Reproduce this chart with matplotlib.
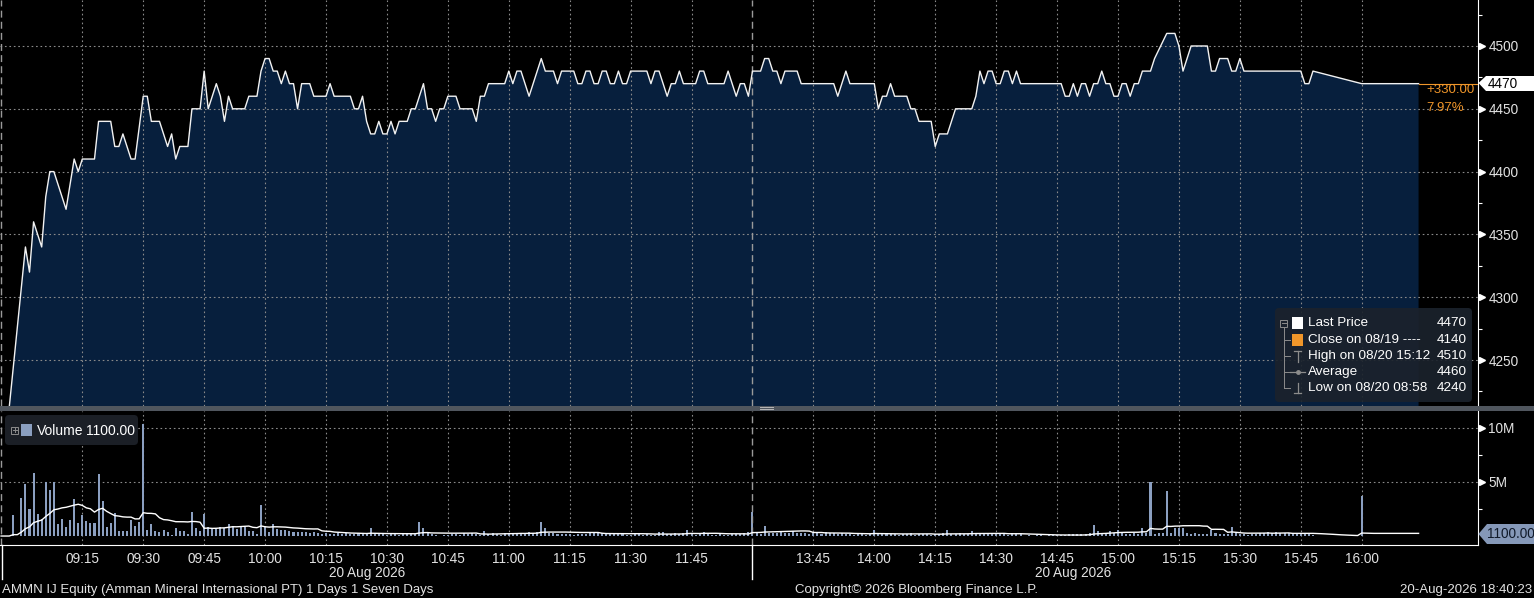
import numpy as np
import pandas as pd
import matplotlib
matplotlib.use("Agg")
import matplotlib.pyplot as plt
import matplotlib.transforms as mtransforms
from matplotlib.patches import FancyBboxPatch, Rectangle, Polygon
from matplotlib.lines import Line2D

# ---- data ----
price_times = ["08:56", "09:01", "09:02", "09:03", "09:05", "09:06", "09:07", "09:08", "09:11", "09:12",
               "09:13", "09:14", "09:15", "09:18", "09:19", "09:22", "09:23", "09:24", "09:25", "09:27",
               "09:28", "09:30", "09:31", "09:32", "09:34", "09:36", "09:37", "09:38", "09:39", "09:41",
               "09:42", "09:44", "09:45", "09:46", "09:48", "09:49", "09:50", "09:51", "09:52", "09:55",
               "09:56", "09:58", "09:59", "10:00", "10:01", "10:02", "10:03", "10:04", "10:05", "10:06",
               "10:07", "10:08", "10:09", "10:11", "10:12", "10:15", "10:16", "10:17", "10:21", "10:22",
               "10:23", "10:24", "10:25", "10:26", "10:27", "10:28", "10:29", "10:30", "10:31", "10:32",
               "10:33", "10:35", "10:36", "10:37", "10:39", "10:40", "10:41", "10:42", "10:43", "10:44",
               "10:45", "10:47", "10:48", "10:51", "10:52", "10:53", "10:54", "10:55", "10:59", "11:00",
               "11:01", "11:02", "11:03", "11:05", "11:07", "11:08", "11:09", "11:11", "11:12", "11:13",
               "11:16", "11:17", "11:18", "11:19", "11:20", "11:21", "11:22", "11:23", "11:24", "11:25",
               "11:26", "11:27", "11:28", "11:29", "11:30", "11:34", "11:35", "11:36", "11:37", "11:39",
               "11:40", "11:41", "11:42", "11:43", "11:46", "11:47", "11:48", "11:49", "11:53", "11:54",
               "11:56", "11:57", "11:58", "11:59",
               "13:30", "13:32", "13:33", "13:34", "13:35", "13:36", "13:37", "13:38", "13:41", "13:42",
               "13:50", "13:51", "13:53", "13:54", "14:00", "14:01", "14:02", "14:03", "14:04", "14:05",
               "14:08", "14:09", "14:10", "14:11", "14:14", "14:15", "14:16", "14:18", "14:20", "14:24",
               "14:25", "14:26", "14:27", "14:28", "14:29", "14:30", "14:31", "14:32", "14:33", "14:34",
               "14:35", "14:36", "14:46", "14:47", "14:48", "14:49", "14:50", "14:51", "14:52", "14:53",
               "14:54", "14:55", "14:56", "14:57", "14:58", "14:59", "15:00", "15:01", "15:02", "15:03",
               "15:04", "15:05", "15:06", "15:08", "15:09", "15:12", "15:14", "15:15", "15:16", "15:18",
               "15:22", "15:23", "15:24", "15:25", "15:27", "15:28", "15:29", "15:30", "15:31", "15:45",
               "15:46", "15:47", "15:48", "16:00", "16:14"]
price_values = [4180, 4340, 4320, 4360, 4340, 4380, 4400, 4400, 4370, 4390,
                4410, 4400, 4410, 4410, 4440, 4440, 4420, 4420, 4430, 4410,
                4410, 4460, 4460, 4440, 4440, 4420, 4430, 4410, 4420, 4420,
                4450, 4450, 4480, 4450, 4470, 4460, 4440, 4460, 4450, 4450,
                4460, 4460, 4480, 4490, 4490, 4480, 4480, 4470, 4480, 4470,
                4470, 4450, 4470, 4470, 4460, 4460, 4470, 4460, 4460, 4450,
                4450, 4460, 4440, 4430, 4430, 4440, 4430, 4430, 4440, 4430,
                4440, 4440, 4450, 4450, 4470, 4450, 4450, 4440, 4450, 4450,
                4460, 4460, 4450, 4450, 4440, 4460, 4460, 4470, 4470, 4480,
                4470, 4480, 4480, 4460, 4480, 4490, 4480, 4480, 4470, 4480,
                4480, 4470, 4470, 4480, 4480, 4470, 4470, 4480, 4480, 4470,
                4470, 4480, 4470, 4470, 4480, 4480, 4470, 4480, 4480, 4460,
                4470, 4470, 4480, 4470, 4470, 4480, 4480, 4470, 4470, 4480,
                4460, 4470, 4470, 4460,
                4480, 4480, 4490, 4490, 4480, 4480, 4470, 4480, 4480, 4470,
                4470, 4460, 4480, 4470, 4470, 4450, 4460, 4460, 4470, 4460,
                4460, 4450, 4450, 4440, 4440, 4420, 4430, 4430, 4450, 4450,
                4460, 4480, 4470, 4480, 4480, 4470, 4470, 4480, 4480, 4470,
                4480, 4470, 4470, 4460, 4460, 4470, 4460, 4470, 4470, 4460,
                4470, 4470, 4480, 4470, 4470, 4460, 4460, 4470, 4470, 4460,
                4470, 4470, 4480, 4480, 4490, 4510, 4510, 4500, 4480, 4500,
                4500, 4480, 4480, 4490, 4490, 4480, 4480, 4490, 4480, 4480,
                4470, 4470, 4480, 4470, 4470]

# volume in millions, one value per minute
vol_am = [0, 0, 0, 1.9, 0, 3.5, 4.8, 2.5, 5.8, 2.0, 1.6, 5.0, 4.3, 5.0, 1.1,          # 08:55
          1.6, 0.8, 1.5, 3.4, 1.2, 1.9, 1.4, 1.2, 1.2, 5.7, 3.2, 0.8, 1.2, 2.1, 0.5,  # 09:10
          0.5, 0.45, 1.5, 0.9, 1.3, 10.4, 0.6, 1.1, 0.5, 0.35, 0.6, 0.35, 0.1, 0.75, 0.45,
          0.45, 0.2, 2.2, 0.7, 0.45, 2.0, 0.85, 0.65, 0.65, 0.8, 0.75, 1.1, 0.9, 0.65, 0.8,
          0.85, 0.5, 0.45, 0.2, 2.9, 0.8, 0.35, 1.1, 0.65, 0.6, 0.55, 0.45, 0.4, 0.4, 0.35,
          0.4, 0.3, 0.35, 0.3, 0.2, 0.25, 0.2, 0.15, 0.3, 0.2, 0.25, 0.15, 0.2, 0.3, 0.2,
          0.15, 0.7, 0.2, 0.15, 0.2, 0.1, 0.15, 0.2, 0.1, 0.15, 0.2, 0.15, 0.2, 1.3, 0.7,
          0.3, 0.2, 0.1, 0, 0.1, 0.1, 0.15, 0.2, 0.1, 0.25, 0.15, 0.3, 0.2, 0.1, 0.5,
          0.2, 0.3, 0.15, 0.1, 0.25, 0.3, 0.3, 0.25, 0.3, 0.2, 0.35, 0.3, 0.4, 1.3, 0.7,
          0.3, 0.25, 0.2, 0.15, 0.2, 0.15, 0.1, 0.2, 0.15, 0.2, 0.3, 0.35, 0.35, 0.3, 0.25,
          0.2, 0.25, 0.2, 0.15, 0.1, 0.1, 0.15, 0.2, 0.1, 0.15, 0.1, 0.1, 0.4, 0.4, 0.2,
          0.15, 0.25, 0.2, 0.3, 0.6, 0.3, 0.1, 0.15, 0.35, 0.2, 0.1, 0.1, 0.15, 0.1, 0.1,
          0.15, 0.2, 0.15, 0.3, 0.4]                                                   # 11:55
vol_pm = [2.2, 0.3, 0.2, 0.9, 0.3, 0.25, 0.3, 0.35, 0.25, 0.3, 0.45, 0.3, 0.25, 0.3, 0.2,  # 13:30
          0.25, 0.3, 0.2, 0.35, 0.25, 0.3, 0.2, 0.25, 0.15, 0.2, 0.1, 0.15, 0.2, 0.1, 0.15,
          0.6, 0.2, 0.15, 0.25, 0.2, 0.15, 0.1, 0.2, 0.15, 0.25, 0.1, 0.2, 0.15, 0.2, 0.1,
          0.2, 0.15, 0.25, 0.55, 0.2, 0.15, 0.25, 0.2, 0.15, 0.5, 0.2, 0.25, 0.2, 0.3, 0.15,
          0.2, 0.15, 0.2, 0.1, 0.25, 0.15, 0.2, 0, 0.1, 0, 0.1, 0.05, 0, 0.1, 0.05,
          0.1, 0.05, 0.1, 0.15, 0.2, 0.15, 0.2, 0.2, 0.3, 1.0, 0.5, 0.25, 0.3, 0.5, 0.3,
          0.6, 0.3, 0.2, 0.2, 0.25, 0.2, 0.7, 0.3, 5.0, 0.2, 0.3, 0.25, 4.2, 0.3, 0.75,
          0.7, 0.7, 0.3, 0.2, 0.25, 0.2, 0.15, 0.2, 0.6, 0.3, 0.2, 0.15, 0.2, 0.8, 0.25,
          0.2, 0.15, 0.1, 0.2, 0.15, 0.3, 0.25, 0.35, 0.3, 0.4, 0.3, 0.3, 0.25, 0.2, 0.2,
          0.25, 0.2, 0.15, 0.1, 0, 0, 0, 0, 0, 0, 0, 0, 0, 0, 0,
          3.7, 0, 0, 0, 0, 0, 0, 0, 0, 0, 0, 0, 0, 0, 0]                                # 16:00

x_ticks = ["09:15", "09:30", "09:45", "10:00", "10:15", "10:30", "10:45", "11:00", "11:15",
           "11:30", "11:45", "13:45", "14:00", "14:15", "14:30", "14:45", "15:00", "15:15",
           "15:30", "15:45", "16:00"]
price_ticks = [4250, 4300, 4350, 4400, 4450, 4500]
price_minor = [4225, 4275, 4325, 4375, 4425, 4475, 4525]
vol_ticks = [5, 10]
vol_tick_labels = ["5M", "10M"]
vol_minor = [2.5, 7.5]

last_price = 4470
change_txt = "+330.00"
change_pct = "7.97%"
last_volume = "1100.00"
legend_labels = ["Last Price", "Close on 08/19 ----", "High on 08/20 15:12", "Average", "Low on 08/20 08:58"]
legend_values = [4470, 4140, 4510, 4460, 4240]

# colours
BG = "black"
FILL = "#071f3d"
GRID = "#8a8a8a"
TXT = "#e2e2e2"
ORANGE = "#f0962a"
VOLC = "#8b9fc0"

plt.rcParams["font.family"] = ["Liberation Sans", "DejaVu Sans"]


def pos(hhmm):
    # trading minutes since 08:55 with the lunch break cut out
    h, m = map(int, hhmm.split(":"))
    mins = h * 60 + m
    if mins >= 13 * 60 + 30:
        return 185 + mins - (13 * 60 + 30)
    return mins - (8 * 60 + 55)


W, H = 1534, 598
fig = plt.figure(figsize=(W / 100, H / 100), dpi=100, facecolor=BG)
tpx = mtransforms.Affine2D().scale(1 / W, -1 / H).translate(0, 1) + fig.transFigure

ax = fig.add_axes([0, 1 - 406 / H, 1478 / W, 406 / H], facecolor=BG)
axv = fig.add_axes([0, 1 - 545 / H, 1478 / W, 134 / H], facecolor=BG)

xmin, xmax = -1.07 / 4.0616, (1478 - 1.07) / 4.0616
tick_pos = [pos(t) for t in x_ticks]

# ---- price panel ----
px = [pos(t) for t in price_times]
ax.fill_between(px, price_values, 4000, color=FILL, lw=0, zorder=1)
ax.plot(px, price_values, color="#f2f2f2", lw=1.0, zorder=4)
ax.plot([px[-1], xmax], [last_price, last_price], color=ORANGE, lw=0.8, zorder=4)

for p in tick_pos:
    ax.axvline(p, color=GRID, lw=0.8, ls=(0, (1.5, 2.5)), zorder=2)
for p in price_ticks:
    ax.axhline(p, color=GRID, lw=0.8, ls=(0, (1.5, 2.5)), zorder=2)
for a in (ax, axv):
    a.axvline(0, color="#9a9a9a", lw=1, ls=(0, (5, 3)), zorder=3)
    a.axvline(185, color="#9a9a9a", lw=1, ls=(0, (5, 3)), zorder=3)

ax.set_xlim(xmin, xmax)
ax.set_ylim(4213.4, 4536.6)
ax.set_xticks([])
ax.yaxis.tick_right()
ax.set_yticks(price_ticks)
ax.set_yticklabels([str(v) for v in price_ticks])
ax.set_yticks(price_minor, minor=True)
ax.tick_params(axis="y", which="major", length=0, pad=7.5, labelsize=9.8, labelcolor=TXT)
ax.tick_params(axis="y", which="minor", length=3, width=0.8, color="white")
tri = mtransforms.blended_transform_factory(ax.transAxes, ax.transData)
ax.plot([1 + 4 / 1478] * len(price_ticks), price_ticks, ls="none", marker=">", ms=4.5,
        color="white", transform=tri, clip_on=False)
for s in ("top", "left", "bottom"):
    ax.spines[s].set_visible(False)
ax.spines["right"].set_color("white")

# ---- volume panel ----
vol = pd.Series(np.concatenate([vol_am, vol_pm]))
vx = np.arange(len(vol))
ma = vol.rolling(15, min_periods=1).sum() / 15
axv.bar(vx, vol, width=0.5, color=VOLC, lw=0, zorder=2)
axv.plot(vx, ma, color="white", lw=1.0, zorder=4)

for p in tick_pos:
    axv.axvline(p, color=GRID, lw=0.8, ls=(0, (1.5, 2.5)), zorder=1)
for p in vol_ticks:
    axv.axhline(p, color=GRID, lw=0.8, ls=(0, (1.5, 2.5)), zorder=1)

axv.set_xlim(xmin, xmax)
axv.set_ylim(-0.83, 11.57)
axv.set_xticks(tick_pos)
axv.set_xticklabels(x_ticks)
axv.tick_params(axis="x", length=0, pad=5, labelsize=9.8, labelcolor=TXT)
axv.yaxis.tick_right()
axv.set_yticks(vol_ticks)
axv.set_yticklabels(vol_tick_labels)
axv.set_yticks(vol_minor, minor=True)
axv.tick_params(axis="y", which="major", length=0, pad=7.5, labelsize=9.8, labelcolor=TXT)
axv.tick_params(axis="y", which="minor", length=3, width=0.8, color="white")
triv = mtransforms.blended_transform_factory(axv.transAxes, axv.transData)
axv.plot([1 + 4 / 1478] * len(vol_ticks), vol_ticks, ls="none", marker=">", ms=4.5,
         color="white", transform=triv, clip_on=False)
for s in ("top", "left"):
    axv.spines[s].set_visible(False)
axv.spines["right"].set_color("white")
axv.spines["bottom"].set_color("white")

# ---- figure furniture in pixel coords ----
fig.patches.append(Rectangle((0, 406), W, 4.5, transform=tpx, fc="#50565e", ec="none"))
for yy in (407.3, 409.3):
    fig.lines.append(Line2D([760, 773], [yy, yy], transform=tpx, color="#b8b8b8", lw=0.7))
for xx in (1.5, 752):
    fig.lines.append(Line2D([xx, xx], [545, 579], transform=tpx, color="white", lw=1))

# last price tag and change
fig.patches.append(Polygon([(1478.5, 83), (1486, 76), (1534, 76), (1534, 91), (1486, 91)],
                           closed=True, transform=tpx, fc="white", ec="none"))
fig.text(1488, 83.5, str(last_price), transform=tpx, color="black", fontsize=9.8, va="center")
fig.text(1426, 90, change_txt, transform=tpx, color=ORANGE, fontsize=9.5, va="center")
fig.text(1426, 108, change_pct, transform=tpx, color=ORANGE, fontsize=9.5, va="center")

# last volume tag
fig.patches.append(Polygon([(1478.5, 534), (1487, 524), (1534, 524), (1534, 544), (1487, 544)],
                           closed=True, transform=tpx, fc="#8598b8", ec="none"))
fig.text(1487, 534.5, last_volume, transform=tpx, color="#101a2a", fontsize=9.8, va="center")

# price legend
fig.patches.append(FancyBboxPatch((1275, 308), 197, 94, boxstyle="round,pad=0,rounding_size=4",
                                  transform=tpx, fc="#1b222c", ec="none", alpha=0.92))
rows = [323, 340, 356, 372, 388]
TREE = "#8c8c8c"
fig.patches.append(Rectangle((1280, 319.5), 7, 7, transform=tpx, fc="none", ec=TREE, lw=0.7))
fig.lines.append(Line2D([1281.5, 1285.5], [323, 323], transform=tpx, color=TREE, lw=0.7))
fig.lines.append(Line2D([1283.5, 1283.5], [327, 388], transform=tpx, color=TREE, lw=0.7))
for r in rows[1:]:
    fig.lines.append(Line2D([1283.5, 1290], [r, r], transform=tpx, color=TREE, lw=0.7))
fig.patches.append(Rectangle((1292, 317), 11, 12, transform=tpx, fc="white", ec="none"))
fig.patches.append(Rectangle((1292, 334), 11, 12, transform=tpx, fc=ORANGE, ec="none"))
fig.lines.append(Line2D([1297.5, 1297.5], [351, 362], transform=tpx, color=TREE, lw=0.9))
fig.lines.append(Line2D([1294, 1301], [351, 351], transform=tpx, color=TREE, lw=0.9))
fig.lines.append(Line2D([1290, 1305], [372, 372], transform=tpx, color=TREE, lw=0.9))
fig.lines.append(Line2D([1297.5], [372], transform=tpx, color=TREE, marker="o", ms=2.5, ls="none"))
fig.lines.append(Line2D([1297.5, 1297.5], [383, 393], transform=tpx, color=TREE, lw=0.9))
fig.lines.append(Line2D([1294, 1301], [393, 393], transform=tpx, color=TREE, lw=0.9))
for r, lab, val in zip(rows, legend_labels, legend_values):
    fig.text(1308, r, lab, transform=tpx, color="white", fontsize=9.7, va="center")
    fig.text(1467, r, str(val), transform=tpx, color="white", fontsize=9.7, va="center", ha="right")

# volume legend
fig.patches.append(FancyBboxPatch((5, 415), 133, 30, boxstyle="round,pad=0,rounding_size=4",
                                  transform=tpx, fc="#1b1f26", ec="none"))
fig.patches.append(Rectangle((11, 426.5), 7, 7, transform=tpx, fc="none", ec=TREE, lw=0.7))
fig.lines.append(Line2D([12.5, 16.5], [430, 430], transform=tpx, color=TREE, lw=0.7))
fig.lines.append(Line2D([14.5, 14.5], [428, 432], transform=tpx, color=TREE, lw=0.7))
fig.patches.append(Rectangle((21, 424), 11, 12, transform=tpx, fc=VOLC, ec="none"))
fig.text(37, 431, "Volume", transform=tpx, color="white", fontsize=10, va="center")
fig.text(86, 431, last_volume, transform=tpx, color="white", fontsize=10, va="center")

# dates and footer
fig.text(367, 573, "20 Aug 2026", transform=tpx, color=TXT, fontsize=9.8, va="center", ha="center")
fig.text(1073, 573, "20 Aug 2026", transform=tpx, color=TXT, fontsize=9.8, va="center", ha="center")
fig.text(2, 590, "AMMN IJ Equity (Amman Mineral Internasional PT) 1 Days 1 Seven Days",
         transform=tpx, color=TXT, fontsize=9.5, va="center")
fig.text(795, 590, "Copyright\u00a9 2026 Bloomberg Finance L.P.", transform=tpx, color=TXT,
         fontsize=9.5, va="center")
fig.text(1532, 590, "20-Aug-2026 18:40:23", transform=tpx, color=TXT, fontsize=9.5,
         va="center", ha="right")

fig.savefig("out.png", dpi=100, facecolor=BG)
